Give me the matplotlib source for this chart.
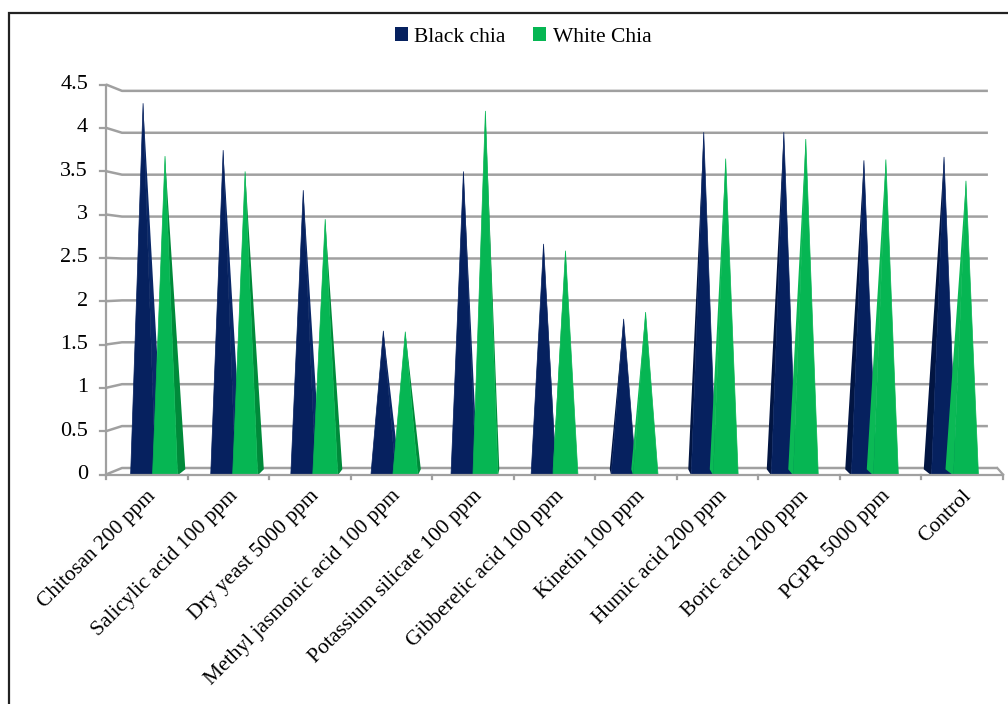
import numpy as np
import matplotlib.pyplot as plt
from matplotlib.patches import Polygon, Patch, Rectangle

# ---------------- DATA ----------------
treatments = [
    "Chitosan 200 ppm", "Salicylic acid 100 ppm", "Dry yeast 5000 ppm",
    "Methyl jasmonic acid 100 ppm", "Potassium silicate 100 ppm",
    "Gibberelic acid 100 ppm", "Kinetin 100 ppm", "Humic acid 200 ppm",
    "Boric acid 200 ppm", "PGPR 5000 ppm", "Control",
]
black_chia = [4.32, 3.77, 3.30, 1.65, 3.52, 2.67, 1.79, 3.98, 3.98, 3.65, 3.69]
white_chia = [3.70, 3.52, 2.96, 1.64, 4.23, 2.59, 1.87, 3.67, 3.90, 3.66, 3.41]
y_ticks = [0, 0.5, 1, 1.5, 2, 2.5, 3, 3.5, 4, 4.5]
# --------------------------------------

W, H = 1008, 704
NAVY = "#06215F"
GREEN = "#06B653"
# side face shades: (left face, right face)
NAVY_SIDES = ("#021542", "#0A2868")
GREEN_SIDES = ("#0BB955", "#008A3A")
GRID = "#A0A0A0"
SERIF = ["Liberation Serif", "DejaVu Serif"]

# pseudo-3D geometry (in pixels of the front plane)
PX_CAT = 81.55      # px per category on the front edge
PX_VAL = 86.67      # px per value unit on the front axis
MID_CAT = 80.1      # px per category on the middle depth plane
BACK_LEFT = -0.304  # back wall left/right ends, in front category units
BACK_RIGHT = 10.315
n = len(treatments)


def mid_x(x):
    # category position on the mid-depth plane -> front units
    return (8 + MID_CAT * (x + 0.5)) / PX_CAT - 0.5


def mid_v(v):
    return 0.0346 + 0.9836 * v


def back_v(v):
    return 0.075 + 0.967 * v


fig = plt.figure(figsize=(W / 100, H / 100), dpi=100)
ax = fig.add_axes([106 / W, (H - 474.5) / H, 897 / W, 390 / H])
ax.set_xlim(-0.5, n - 0.5)
ax.set_ylim(0, 4.5)
ax.axis("off")

# outer frame
fig.patches.append(Rectangle((8.5 / W, -0.05), 1.2, (H - 12.5) / H + 0.05,
                             transform=fig.transFigure, fill=False,
                             edgecolor="#222222", linewidth=1.6))

# back wall gridlines with the short depth connector to the value axis
for v in y_ticks:
    bv = back_v(v)
    right = 10.43 if v == 0 else BACK_RIGHT
    ax.plot([-0.5, BACK_LEFT, right], [v, bv, bv], color=GRID, lw=1.8,
            clip_on=False, zorder=1, solid_capstyle="butt")
    ax.plot([-0.5 - 6 / PX_CAT, -0.5], [v, v], color=GRID, lw=1.6,
            clip_on=False, zorder=1)
    ax.text(-0.5 - 18 / PX_CAT, v, f"{v:g}", ha="right", va="center",
            fontsize=16, family=SERIF)

# floor right edge, front edge and value axis
ax.plot([10.43, 10.5], [back_v(0), 0], color=GRID, lw=1.6, clip_on=False)
ax.plot([-0.5, 10.5], [0, 0], color=GRID, lw=1.6, clip_on=False, zorder=4)
ax.plot([-0.5, -0.5], [0, 4.5], color=GRID, lw=1.6, clip_on=False)
for i in range(n + 1):
    ax.plot([i - 0.5, i - 0.5], [0, -5 / PX_VAL], color=GRID, lw=1.6,
            clip_on=False)

# pyramids: front face plus the side face turned towards the viewer
half = 12.5 / PX_CAT
centre_px = 555
for i in range(n):
    for vals, off, face, sides in [(black_chia, -0.137, NAVY, NAVY_SIDES),
                                   (white_chia, 0.137, GREEN, GREEN_SIDES)]:
        cx = mid_x(i + off)
        top = mid_v(vals[i])
        px = 106 + PX_CAT * (cx + 0.5)
        s = np.clip((px - centre_px) * 0.02, -8, 8) / PX_CAT
        base_y = -1 / PX_VAL
        if s < 0:
            side_pts = [(cx, top), (cx + half, base_y), (cx + half - s, 0.06)]
            side_col = sides[1]
        else:
            side_pts = [(cx, top), (cx - half, base_y), (cx - half - s, 0.06)]
            side_col = sides[0]
        ax.add_patch(Polygon(side_pts, closed=True, facecolor=side_col,
                             edgecolor="none", zorder=3))
        ax.add_patch(Polygon([(cx - half, base_y), (cx + half, base_y), (cx, top)],
                             closed=True, facecolor=face, edgecolor=face,
                             linewidth=0.5, zorder=3))

# category labels
for i, name in enumerate(treatments):
    ax.text(i + 0.0, -12 / PX_VAL, name, rotation=45, rotation_mode="anchor",
            ha="right", va="top", fontsize=15.5, family=SERIF)

handles = [Patch(facecolor=NAVY, label="Black chia"),
           Patch(facecolor=GREEN, label="White Chia")]
fig.legend(handles=handles, loc="center", bbox_to_anchor=(523 / W, 1 - 37 / H),
           ncol=2, frameon=False, prop={"family": SERIF, "size": 15.5},
           handlelength=0.6, handleheight=0.6, handletextpad=0.3,
           columnspacing=1.3)

fig.savefig("out.png", dpi=100)
